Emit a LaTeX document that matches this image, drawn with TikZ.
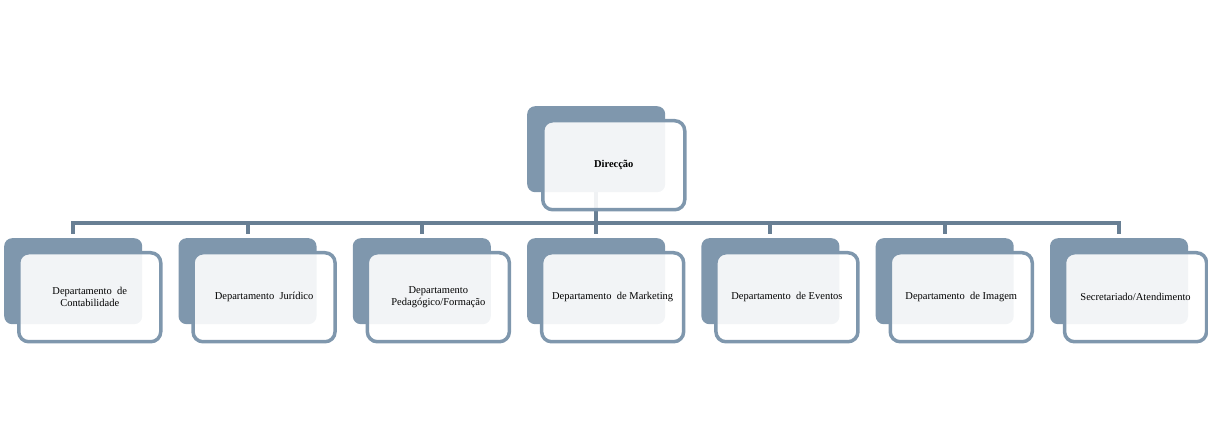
\documentclass[tikz,border=0pt]{standalone}
\usepackage{fontspec}
\setmainfont{Liberation Serif}
\usetikzlibrary{positioning,calc,backgrounds}
\definecolor{backgrey}{HTML}{7F97AD}
\definecolor{linegrey}{HTML}{687F94}
\tikzset{
  backbox/.style={rectangle,rounded corners=8pt,fill=backgrey,
    minimum width=138pt,minimum height=86pt,anchor=north west,inner sep=0pt},
  frontbox/.style={rectangle,rounded corners=10pt,draw=backgrey,line width=3.5pt,
    fill=white,fill opacity=0.9,text opacity=1,minimum width=142pt,minimum height=89pt,
    anchor=north west,align=center,inner sep=2pt,
    font=\fontsize{10.5}{12}\selectfont},
  conn/.style={draw=linegrey,line width=4pt}
}

\begin{document}
\begin{tikzpicture}[x=1pt,y=-1pt]
  \useasboundingbox (0,0) rectangle (1208,446);

  % top box
  \node[backbox] (dirb) at (527,106) {};
  \node[frontbox] (dir) at ($(dirb.north west)+(14,13)$) {\textbf{Direcção}};

  % departments
  \foreach \i/\txt in {1/{Departamento\ \ de\\Contabilidade},
                       2/{Departamento\ \ Jurídico},
                       3/{Departamento\\Pedagógico/Formação},
                       4/{Departamento\ \ de Marketing},
                       5/{Departamento\ \ de Eventos},
                       6/{Departamento\ \ de Imagem},
                       7/{Secretariado/Atendimento}} {
    \node[backbox] (b\i) at ({4+174.3*(\i-1)},238) {};
    \begin{scope}[on background layer]
      \draw[conn,shorten >=4pt] (dirb.south) -- ++(0,31) -| (b\i.north);
    \end{scope}
    \node[frontbox] (d\i) at ($(b\i.north west)+(13,13)$) {\txt};
  }

\end{tikzpicture}
\end{document}
